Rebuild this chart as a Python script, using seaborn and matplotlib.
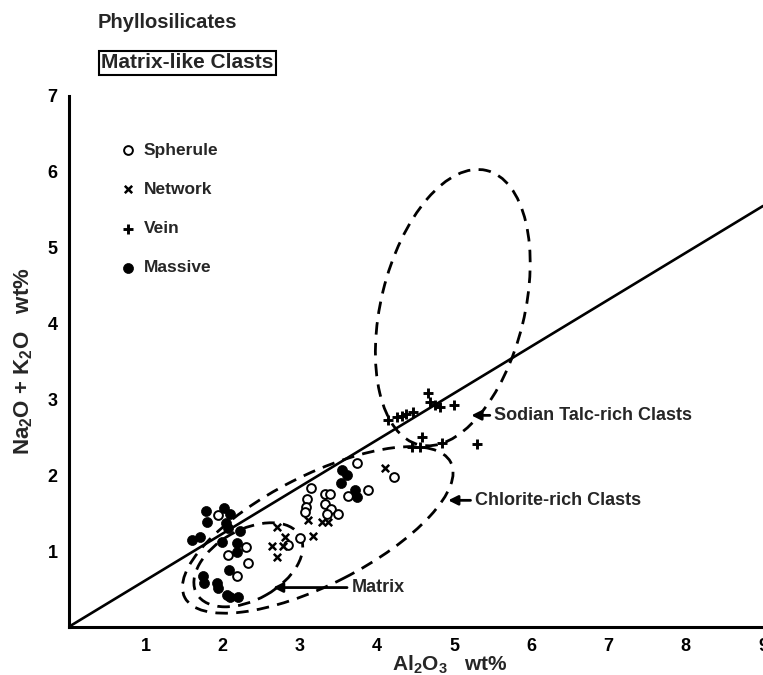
import matplotlib
matplotlib.use("Agg")
import matplotlib.pyplot as plt
from matplotlib.patches import Ellipse
import pandas as pd
import seaborn as sns

# Al2O3 (wt%) and Na2O + K2O (wt%) for each clast texture
spherule_al = [1.94, 2.30, 2.07, 2.33, 2.18, 3.74, 4.22, 3.14, 3.32, 3.39, 3.62,
               3.88, 3.09, 3.08, 3.32, 3.06, 3.40, 3.35, 3.49, 3.00, 2.84]
spherule_alk = [1.48, 1.05, 0.95, 0.84, 0.67, 2.16, 1.98, 1.83, 1.75, 1.75, 1.73,
                1.81, 1.69, 1.58, 1.62, 1.52, 1.56, 1.49, 1.49, 1.17, 1.08]

network_al = [2.70, 2.80, 2.78, 2.64, 2.70, 3.17, 3.10, 3.28, 3.36, 4.10]
network_alk = [1.32, 1.19, 1.07, 1.07, 0.92, 1.20, 1.41, 1.38, 1.38, 2.10]

vein_al = [4.14, 4.26, 4.32, 4.38, 4.46, 4.66, 4.68, 4.75, 4.81, 4.99,
           4.58, 4.45, 4.55, 4.84, 5.29]
vein_alk = [2.73, 2.77, 2.78, 2.81, 2.83, 3.08, 2.97, 2.93, 2.90, 2.93,
            2.50, 2.37, 2.37, 2.43, 2.41]

massive_al = [1.78, 2.01, 2.09, 1.79, 2.04, 2.07, 2.22, 1.60, 1.70, 1.99, 2.18,
              2.18, 2.08, 1.74, 1.76, 1.92, 1.94, 2.05, 2.09, 2.20,
              3.54, 3.61, 3.53, 3.71, 3.74]
massive_alk = [1.53, 1.57, 1.49, 1.38, 1.37, 1.31, 1.26, 1.15, 1.19, 1.12, 1.11,
               0.99, 0.75, 0.67, 0.58, 0.58, 0.51, 0.42, 0.40, 0.40,
               2.07, 2.00, 1.90, 1.81, 1.71]

# reference line
line_al = [0.0, 9.0]
line_alk = [0.0, 5.55]

# compositional fields: centre, semi-axes, tilt (degrees)
field_names = ["Sodian Talc-rich Clasts", "Chlorite-rich Clasts", "Matrix"]
field_cx = [4.98, 3.23, 2.33]
field_cy = [4.21, 1.28, 0.82]
field_a = [1.86, 1.94, 0.77]
field_b = [0.93, 0.72, 0.46]
field_angle = [76.5, 27.4, 30.0]

# label anchor (text start) and arrow tip for each field
label_x = [5.52, 5.27, 3.67]
label_y = [2.79, 1.67, 0.52]
tip_x = [5.22, 4.92, 2.65]
tip_y = [2.79, 1.67, 0.52]

x_ticks = [1, 2, 3, 4, 5, 6, 7, 8, 9]
y_ticks = [1, 2, 3, 4, 5, 6, 7]

sns.set_style("white")
plt.rcParams["font.family"] = ["Liberation Sans", "DejaVu Sans"]
plt.rcParams["font.weight"] = "bold"
plt.rcParams["mathtext.fontset"] = "custom"
plt.rcParams["mathtext.rm"] = "Liberation Sans:bold"
plt.rcParams["mathtext.it"] = "Liberation Sans:bold"
plt.rcParams["mathtext.bf"] = "Liberation Sans:bold"

fig = plt.figure(figsize=(7.63, 6.75), dpi=100)
ax = fig.add_axes([0.0898, 0.0711, 0.9102, 0.7867])

sns.lineplot(x=line_al, y=line_alk, ax=ax, color="black", linewidth=1.9)

sns.scatterplot(x=spherule_al, y=spherule_alk, ax=ax, marker="o", s=40,
                facecolor="white", edgecolor="black", linewidth=1.4,
                label="Spherule", zorder=3)
sns.scatterplot(x=network_al, y=network_alk, ax=ax, marker="x", s=28,
                color="black", linewidth=1.8, label="Network", zorder=3)
sns.scatterplot(x=vein_al, y=vein_alk, ax=ax, marker="+", s=60,
                color="black", linewidth=2.1, label="Vein", zorder=3)
sns.scatterplot(x=massive_al, y=massive_alk, ax=ax, marker="o", s=52,
                color="black", edgecolor="black", linewidth=0.5,
                label="Massive", zorder=3)

for cx, cy, a, b, ang in zip(field_cx, field_cy, field_a, field_b, field_angle):
    ax.add_patch(Ellipse((cx, cy), 2 * a, 2 * b, angle=ang, fill=False,
                         edgecolor="black", linewidth=2.0,
                         linestyle=(0, (4.5, 3.0))))

for name, lx, ly, tx, ty in zip(field_names, label_x, label_y, tip_x, tip_y):
    ax.annotate(name, xy=(tx, ty), xytext=(lx, ly), ha="left", va="center",
                fontsize=13, fontweight="bold",
                arrowprops=dict(arrowstyle="-|>", color="black", lw=2.0,
                                shrinkA=1, shrinkB=0, mutation_scale=14))

ax.set_xlim(0, 9)
ax.set_ylim(0, 7)
ax.set_xticks(x_ticks)
ax.set_yticks(y_ticks)
ax.set_xticklabels([str(t) for t in x_ticks], fontsize=13, fontweight="bold")
ax.set_yticklabels([str(t) for t in y_ticks], fontsize=13, fontweight="bold")
ax.tick_params(direction="out", length=5, width=1.8, pad=3, colors="black")
for side in ("top", "right"):
    ax.spines[side].set_visible(False)
for side in ("left", "bottom"):
    ax.spines[side].set_linewidth(2.2)
    ax.spines[side].set_color("black")
    ax.spines[side].set_capstyle("projecting")

ax.set_xlabel("Al$_2$O$_3$   wt%", fontsize=15, fontweight="bold")
ax.set_ylabel("Na$_2$O + K$_2$O   wt%", fontsize=16, fontweight="bold")
ax.xaxis.set_label_coords(0.549, -0.05)
ax.yaxis.set_label_coords(-0.048, 0.50)

ax.legend(loc="upper left", bbox_to_anchor=(0.0737, 0.912), frameon=False,
          prop={"size": 12.5, "weight": "bold"}, labelspacing=1.38,
          handletextpad=0.4, handlelength=1.0, borderpad=0, borderaxespad=0)

fig.text(98 / 763, 1 - 23 / 675, "Phyllosilicates", fontsize=14.5,
         fontweight="bold", ha="left", va="center")
fig.text(101 / 763, 1 - 63 / 675, "Matrix-like Clasts", fontsize=15,
         fontweight="bold", ha="left", va="center",
         bbox=dict(boxstyle="square,pad=0.12", facecolor="white",
                   edgecolor="black", linewidth=1.5))

fig.savefig("out.png", dpi=100)
